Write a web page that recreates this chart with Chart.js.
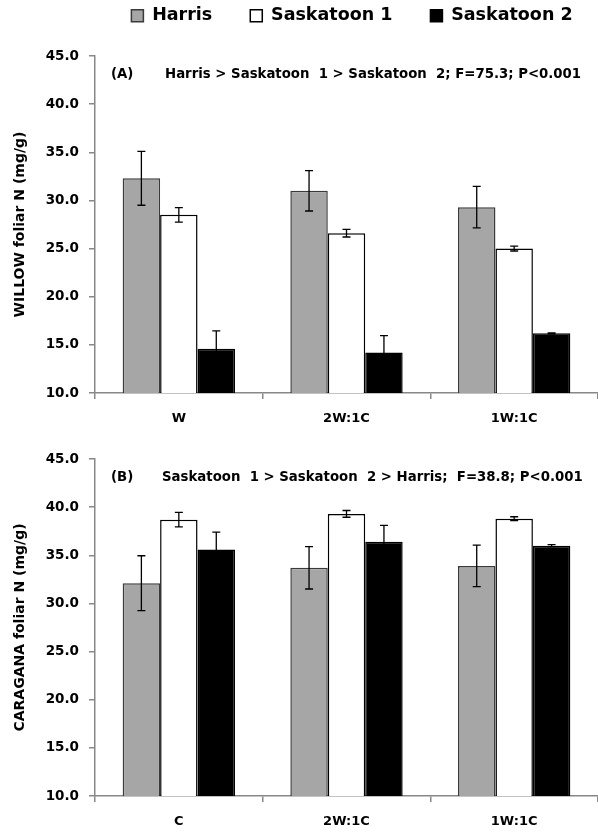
<!DOCTYPE html>
<html>
<head>
<meta charset="utf-8">
<script src="https://cdn.jsdelivr.net/npm/chart.js@4.4.1/dist/chart.umd.min.js"></script>
<style>
  body { margin: 0; background: #fff; }
  canvas { display: block; }
</style>
</head>
<body>
<canvas id="willowChart" width="598" height="430"></canvas>
<canvas id="caraganaChart" width="598" height="402"></canvas>
<script>
// data
const series = ['Harris', 'Saskatoon 1', 'Saskatoon 2'];
const willowCats = ['W', '2W:1C', '1W:1C'];
const caraganaCats = ['C', '2W:1C', '1W:1C'];

const willowHarris = [32.3, 31.0, 29.3];
const willowSask1 = [28.5, 26.6, 25.0];
const willowSask2 = [14.6, 14.2, 16.2];
const willowHarrisErr = [2.8, 2.1, 2.15];
const willowSask1Err = [0.75, 0.4, 0.25];
const willowSask2Err = [1.85, 1.75, 0.05];

const caraganaHarris = [32.1, 33.7, 33.9];
const caraganaSask1 = [38.7, 39.3, 38.8];
const caraganaSask2 = [35.6, 36.4, 36.0];
const caraganaHarrisErr = [2.85, 2.2, 2.15];
const caraganaSask1Err = [0.75, 0.35, 0.2];
const caraganaSask2Err = [1.8, 1.7, 0.1];

const yTicks = [10, 15, 20, 25, 30, 35, 40, 45];

const FONT = '"DejaVu Sans", "Liberation Sans", sans-serif';
Chart.defaults.font.family = FONT;
Chart.defaults.font.weight = 'bold';
Chart.defaults.color = '#000';

const fills = ['#a6a6a6', '#ffffff', '#000000'];
const borders = ['#3a3a3a', '#000000', '#000000'];

function makeDatasets(values, errs) {
  return values.map((v, i) => ({
    label: series[i],
    data: v,
    errors: errs[i],
    backgroundColor: fills[i],
    borderColor: borders[i],
    borderWidth: 1.5,
    categoryPercentage: 0.67,
    barPercentage: 1.0
  }));
}

// error bars drawn from the y scale
const errorBars = {
  id: 'errorBars',
  afterDatasetsDraw(chart) {
    const ctx = chart.ctx;
    const y = chart.scales.y;
    ctx.save();
    ctx.strokeStyle = '#000';
    ctx.lineWidth = 1.3;
    chart.data.datasets.forEach((ds, i) => {
      const meta = chart.getDatasetMeta(i);
      meta.data.forEach((bar, j) => {
        const v = ds.data[j], e = ds.errors[j];
        const top = y.getPixelForValue(v + e);
        const bot = y.getPixelForValue(v - e);
        ctx.beginPath();
        ctx.moveTo(bar.x, top); ctx.lineTo(bar.x, bot);
        ctx.moveTo(bar.x - 4, top); ctx.lineTo(bar.x + 4, top);
        ctx.moveTo(bar.x - 4, bot); ctx.lineTo(bar.x + 4, bot);
        ctx.stroke();
      });
    });
    ctx.restore();
  }
};

// panel letter + ANOVA text inside the plot
const panelNote = {
  id: 'panelNote',
  afterDraw(chart, args, opts) {
    const ctx = chart.ctx;
    ctx.save();
    ctx.font = 'bold 13.3px ' + FONT;
    ctx.fillStyle = '#000';
    ctx.textBaseline = 'middle';
    ctx.fillText(opts.letter, 111, opts.y);
    ctx.fillText(opts.text, opts.x, opts.y);
    ctx.restore();
  }
};

// legend placement tweak (tall box, shifted right)
const legendNudge = {
  id: 'legendNudge',
  beforeLayout(chart) {
    const lg = chart.legend;
    if (lg && !lg._patched) {
      const fit = lg.fit;
      lg.fit = function () { fit.call(this); this.height = 56; };
      lg._patched = true;
    }
  },
  afterLayout(chart) {
    const lg = chart.legend;
    if (!lg) return;
    lg.top = -31;
    lg.left += 53;
    lg.right += 53;
  }
};

function scalesFor(xHeight, yTitle) {
  return {
    x: {
      afterFit(s) { s.height = xHeight; },
      border: { color: '#888', width: 1.5 },
      grid: { offset: true, drawOnChartArea: false, drawTicks: true, tickLength: 6, color: '#888', lineWidth: 1.5 },
      ticks: { font: { size: 13, weight: 'bold' }, padding: 12 }
    },
    y: {
      min: 10,
      max: 45,
      afterFit(s) { s.width = 95; },
      afterBuildTicks(s) { s.ticks = yTicks.map(v => ({ value: v })); },
      border: { color: '#888', width: 1.5 },
      grid: { drawOnChartArea: false, drawTicks: true, tickLength: 6, color: '#888', lineWidth: 1.5 },
      ticks: { font: { size: 13.5, weight: 'bold' }, padding: 10, callback: v => Number(v).toFixed(1) },
      title: { display: true, text: yTitle, font: { size: 14, weight: 'bold' }, padding: { top: 12, bottom: 0 } }
    }
  };
}

new Chart(document.getElementById('willowChart'), {
  type: 'bar',
  data: {
    labels: willowCats,
    datasets: makeDatasets([willowHarris, willowSask1, willowSask2], [willowHarrisErr, willowSask1Err, willowSask2Err])
  },
  options: {
    responsive: false,
    animation: false,
    layout: { padding: 0 },
    scales: scalesFor(37, 'WILLOW foliar N (mg/g)'),
    plugins: {
      legend: {
        display: true,
        labels: { boxWidth: 12, boxHeight: 12, padding: 38, font: { size: 17.5, weight: 'bold' } }
      },
      tooltip: { enabled: false },
      panelNote: { letter: '(A)', text: 'Harris > Saskatoon  1 > Saskatoon  2; F=75.3; P<0.001', x: 165, y: 75 }
    }
  },
  plugins: [errorBars, panelNote, legendNudge]
});

new Chart(document.getElementById('caraganaChart'), {
  type: 'bar',
  data: {
    labels: caraganaCats,
    datasets: makeDatasets([caraganaHarris, caraganaSask1, caraganaSask2], [caraganaHarrisErr, caraganaSask1Err, caraganaSask2Err])
  },
  options: {
    responsive: false,
    animation: false,
    layout: { padding: { top: 29 } },
    scales: scalesFor(36, 'CARAGANA foliar N (mg/g)'),
    plugins: {
      legend: { display: false },
      tooltip: { enabled: false },
      panelNote: { letter: '(B)', text: 'Saskatoon  1 > Saskatoon  2 > Harris;  F=38.8; P<0.001', x: 162, y: 48 }
    }
  },
  plugins: [errorBars, panelNote]
});
</script>
</body>
</html>
